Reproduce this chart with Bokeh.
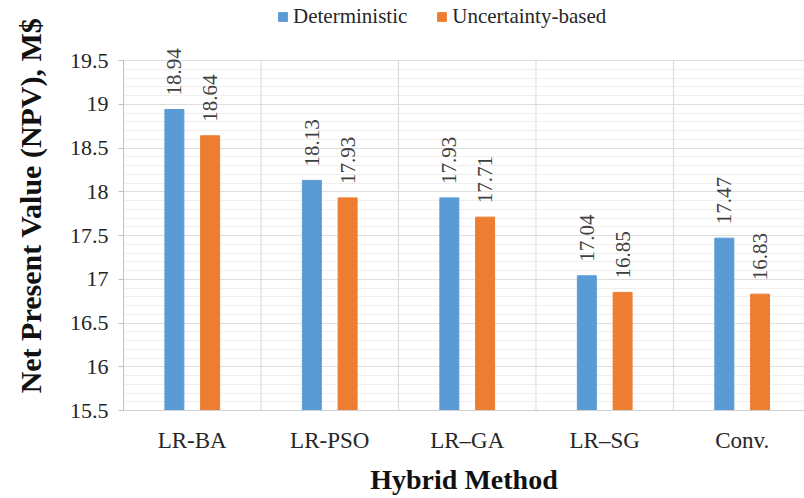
import math

from bokeh.core.properties import value
from bokeh.embed import file_html
from bokeh.models import (ColumnDataSource, FixedTicker, Legend, LegendItem,
                          Range1d)
from bokeh.plotting import figure
from bokeh.resources import INLINE

# NPV per hybrid method, M$
methods = ["LR-BA", "LR-PSO", "LR\u2013GA", "LR\u2013SG", "Conv."]
deterministic = [18.94, 18.13, 17.93, 17.04, 17.47]
uncertainty_based = [18.64, 17.93, 17.71, 16.85, 16.83]
series_names = ["Deterministic", "Uncertainty-based"]

y_ticks = [15.5, 16, 16.5, 17, 17.5, 18, 18.5, 19, 19.5]
y_labels = ["15.5", "16", "16.5", "17", "17.5", "18", "18.5", "19", "19.5"]

BLUE = "#5B9BD5"
ORANGE = "#ED7D31"
FONT = "Liberation Serif"
Y0, Y1 = 15.5, 19.5
# headroom above 19.5 keeps the rotated value labels and legend inside the frame
Y_TOP = 20.186

n = len(methods)
centers = [i + 0.5 for i in range(n)]
offset = 0.13
bar_w = 0.138

p = figure(width=804, height=498, output_backend="svg", toolbar_location=None,
           x_range=Range1d(0, 4.953), y_range=Range1d(Y0, Y_TOP),
           min_border_left=123, min_border_right=0, min_border_top=0,
           min_border_bottom=88)
p.outline_line_color = None
p.background_fill_color = "white"

# category separators, drawn only over the value span
bounds_x = list(range(1, n))
p.segment(x0=bounds_x, y0=[Y0] * len(bounds_x), x1=bounds_x, y1=[Y1] * len(bounds_x),
          line_color="#d9d9d9", line_width=1)

src_d = ColumnDataSource(dict(x=[c - offset for c in centers], top=deterministic,
                              label=[f"{v:.2f}" for v in deterministic]))
src_u = ColumnDataSource(dict(x=[c + offset for c in centers], top=uncertainty_based,
                              label=[f"{v:.2f}" for v in uncertainty_based]))

r_d = p.vbar(x="x", top="top", bottom=Y0, width=bar_w, source=src_d,
             fill_color=BLUE, line_color=BLUE)
r_u = p.vbar(x="x", top="top", bottom=Y0, width=bar_w, source=src_u,
             fill_color=ORANGE, line_color=ORANGE)

# rotated value labels above each bar
for src in (src_d, src_u):
    p.text(x="x", y="top", text="label", source=src, angle=math.pi / 2,
           text_align="left", text_baseline="middle", y_offset=-14,
           text_font=value(FONT), text_font_size="21px", text_color="#404040")

# axes
p.xaxis.ticker = FixedTicker(ticks=centers)
p.xaxis.major_label_overrides = {c: m for c, m in zip(centers, methods)}
p.xaxis.major_tick_out = 0
p.xaxis.major_tick_in = 0
p.xaxis.minor_tick_out = 0
p.xaxis.minor_tick_in = 0
p.xaxis.axis_line_color = "#d0d0d0"
p.xaxis.major_label_text_font = FONT
p.xaxis.major_label_text_font_size = "23px"
p.xaxis.major_label_text_color = "#262626"
p.xaxis.major_label_standoff = 17
p.xaxis.axis_label = "Hybrid Method"
p.xaxis.axis_label_text_font = FONT
p.xaxis.axis_label_text_font_style = "bold"
p.xaxis.axis_label_text_font_size = "28px"
p.xaxis.axis_label_text_color = "#111111"
p.xaxis.axis_label_standoff = 8

p.yaxis.bounds = (Y0, Y1)
p.yaxis.ticker = FixedTicker(ticks=y_ticks,
                             minor_ticks=[round(Y0 + 0.1 * k, 1) for k in range(41)])
p.yaxis.major_label_overrides = {t: s for t, s in zip(y_ticks, y_labels)}
p.yaxis.major_tick_out = 5
p.yaxis.major_tick_in = 0
p.yaxis.minor_tick_out = 0
p.yaxis.minor_tick_in = 0
p.yaxis.major_tick_line_color = "#bfbfbf"
p.yaxis.axis_line_color = "#bfbfbf"
p.yaxis.major_label_text_font = FONT
p.yaxis.major_label_text_font_size = "22px"
p.yaxis.major_label_text_color = "#262626"
p.yaxis.major_label_standoff = 10
p.yaxis.axis_label = "Net Present Value (NPV), M$"
p.yaxis.axis_label_text_font = FONT
p.yaxis.axis_label_text_font_style = "bold"
p.yaxis.axis_label_text_font_size = "30px"
p.yaxis.axis_label_text_color = "#111111"
p.yaxis.axis_label_standoff = 20

# grids: faint rules every 0.1 up to 19.5
p.ygrid.bounds = (Y0, Y1)
p.ygrid.grid_line_color = "#dedede"
p.ygrid.minor_grid_line_color = "#efefef"
p.xgrid.visible = False

legend = Legend(items=[LegendItem(label=series_names[0], renderers=[r_d]),
                       LegendItem(label=series_names[1], renderers=[r_u])],
                orientation="horizontal", location=(154, 381),
                glyph_width=11, glyph_height=11, label_standoff=5, spacing=29,
                padding=0, margin=0, border_line_color=None,
                background_fill_alpha=0, label_text_font=FONT,
                label_text_font_size="21px", label_text_color="#262626")
p.add_layout(legend, "center")

open("out.html", "w").write(file_html(p, INLINE))
